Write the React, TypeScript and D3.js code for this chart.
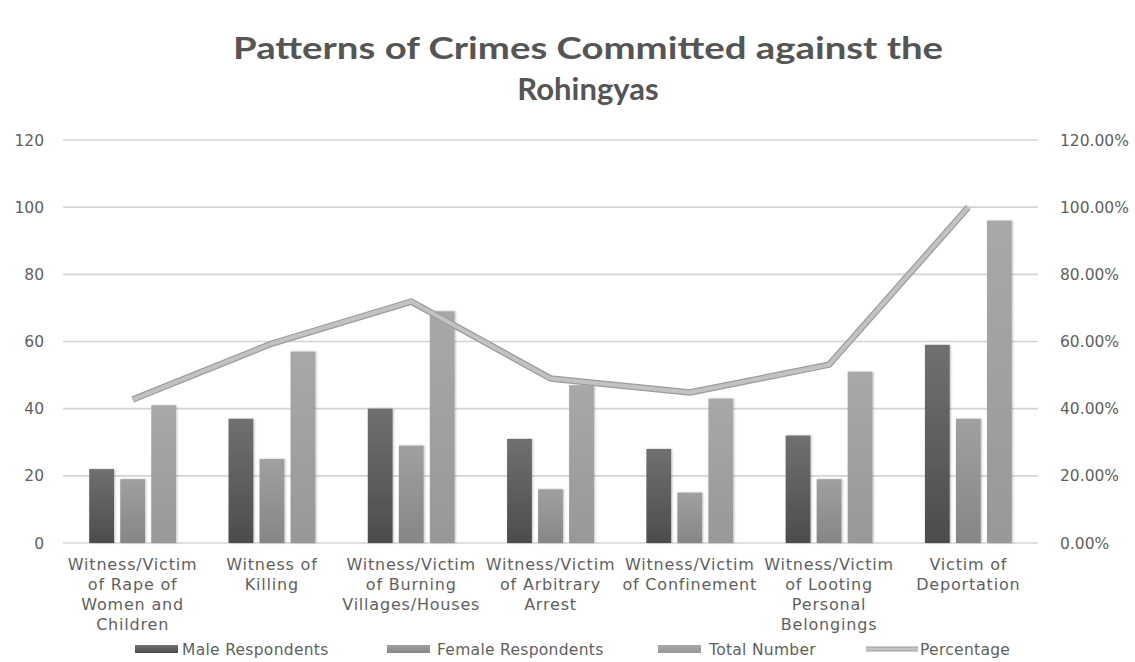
import React from "react";
import * as d3 from "d3";

const titleLines = ["Patterns of Crimes Committed against the", "Rohingyas"];
const categories: string[][] = [
  ["Witness/Victim", "of Rape of", "Women and", "Children"],
  ["Witness of", "Killing"],
  ["Witness/Victim", "of Burning", "Villages/Houses"],
  ["Witness/Victim", "of Arbitrary", "Arrest"],
  ["Witness/Victim", "of Confinement"],
  ["Witness/Victim", "of Looting", "Personal", "Belongings"],
  ["Victim of", "Deportation"],
];
const seriesNames = ["Male Respondents", "Female Respondents", "Total Number"];
const lineName = "Percentage";
const maleValues = [22, 37, 40, 31, 28, 32, 59];
const femaleValues = [19, 25, 29, 16, 15, 19, 37];
const totalValues = [41, 57, 69, 47, 43, 51, 96];
const percentValues = [0.427, 0.594, 0.719, 0.49, 0.448, 0.531, 1.0];
const leftTicks = [0, 20, 40, 60, 80, 100, 120];
const rightTicks = [0, 0.2, 0.4, 0.6, 0.8, 1.0, 1.2];

const W = 1135;
const H = 662;
const plotLeft = 63;
const plotRight = 1038;
const plotTop = 140;
const plotBottom = 543;

const gradIds = ["gMale", "gFemale", "gTotal"];
const gradStops = [
  ["#707070", "#4c4c4c"],
  ["#a0a0a0", "#868686"],
  ["#a8a8a8", "#989898"],
];
const textColor = "#5f5f5f";
const axisFont = "'DejaVu Sans', Verdana, sans-serif";

export default function App() {
  const idx = categories.map((_, i) => String(i));
  const x0 = d3.scaleBand<string>().domain(idx).range([plotLeft, plotRight]).padding(0);
  const x1 = d3
    .scaleBand<string>()
    .domain(seriesNames)
    .range([0, x0.bandwidth()])
    .paddingInner(0.2)
    .paddingOuter(0.845);
  const yL = d3.scaleLinear().domain([0, 120]).range([plotBottom, plotTop]);
  const yR = d3.scaleLinear().domain([0, 1.2]).range([plotBottom, plotTop]);
  const seriesValues = [maleValues, femaleValues, totalValues];
  const cx = (i: number) => (x0(String(i)) as number) + x0.bandwidth() / 2;
  const line = d3
    .line<number>()
    .x((_, i) => cx(i))
    .y((d) => yR(d));
  const pathD = line(percentValues) || "";
  const pctFmt = d3.format(".2%");

  const legendItems = [
    { sw: 135, tx: 182, kind: 0 },
    { sw: 387, tx: 437, kind: 1 },
    { sw: 658, tx: 709, kind: 2 },
    { sw: 866, tx: 920, kind: 3 },
  ];
  const legendY = 649;

  return (
    <svg
      width={W}
      height={H}
      style={{ position: "absolute", left: 0, top: 0, background: "#fff" }}
    >
      <defs>
        {gradIds.map((id, k) => (
          <linearGradient key={id} id={id} x1="0" y1="0" x2="0" y2="1">
            <stop offset="0%" stopColor={gradStops[k][0]} />
            <stop offset="100%" stopColor={gradStops[k][1]} />
          </linearGradient>
        ))}
        <filter id="shadow" x="-20%" y="-5%" width="140%" height="110%">
          <feGaussianBlur in="SourceAlpha" stdDeviation="1.2" />
          <feOffset dx="1" dy="0" result="b" />
          <feComponentTransfer>
            <feFuncA type="linear" slope="0.25" />
          </feComponentTransfer>
          <feMerge>
            <feMergeNode />
            <feMergeNode in="SourceGraphic" />
          </feMerge>
        </filter>
      </defs>

      {titleLines.map((t, i) => (
        <text
          key={i}
          x={588}
          y={59 + i * 41}
          textAnchor="middle"
          fontFamily="Lato, 'Open Sans', sans-serif"
          fontWeight="bold"
          fontSize={31}
          fill="#555"
          textLength={i === 0 ? 710 : undefined}
          lengthAdjust="spacingAndGlyphs"
        >
          {t}
        </text>
      ))}

      {leftTicks.map((t) => (
        <line
          key={"g" + t}
          x1={plotLeft}
          x2={plotRight}
          y1={yL(t)}
          y2={yL(t)}
          stroke="#d4d4d4"
          strokeWidth={1.6}
        />
      ))}

      {leftTicks.map((t) => (
        <text
          key={"l" + t}
          x={44}
          y={yL(t) + 5.5}
          textAnchor="end"
          fontFamily={axisFont}
          fontSize={15.5}
          fill={textColor}
        >
          {t}
        </text>
      ))}
      {rightTicks.map((t) => (
        <text
          key={"r" + t}
          x={1060}
          y={yR(t) + 5.5}
          textAnchor="start"
          fontFamily={axisFont}
          fontSize={15.5}
          fill={textColor}
        >
          {pctFmt(t)}
        </text>
      ))}

      {categories.map((_, i) =>
        seriesNames.map((s, k) => {
          const v = seriesValues[k][i];
          const bx = (x0(String(i)) as number) + (x1(s) as number);
          return (
            <rect
              key={i + "-" + k}
              x={bx}
              y={yL(v)}
              width={x1.bandwidth()}
              height={plotBottom - yL(v)}
              fill={`url(#${gradIds[k]})`}
              filter="url(#shadow)"
            />
          );
        })
      )}

      <path d={pathD} fill="none" stroke="#9c9c9c" strokeWidth={6.5} strokeLinejoin="round" />
      <path d={pathD} fill="none" stroke="#c2c2c2" strokeWidth={4} strokeLinejoin="round" />

      {categories.map((lines, i) =>
        lines.map((ln, j) => (
          <text
            key={"c" + i + "-" + j}
            x={cx(i)}
            y={564 + j * 20 + 5.5}
            textAnchor="middle"
            fontFamily={axisFont}
            fontSize={16}
            letterSpacing={0.8}
            fill={textColor}
          >
            {ln}
          </text>
        ))
      )}

      {legendItems.map((it, k) => (
        <g key={"lg" + k}>
          {it.kind < 3 ? (
            <rect
              x={it.sw}
              y={legendY - 4}
              width={43}
              height={8}
              fill={`url(#${gradIds[it.kind]})`}
            />
          ) : (
            <>
              <line x1={it.sw} x2={it.sw + 52} y1={legendY} y2={legendY} stroke="#9c9c9c" strokeWidth={5} />
              <line x1={it.sw} x2={it.sw + 52} y1={legendY} y2={legendY} stroke="#c4c4c4" strokeWidth={3} />
            </>
          )}
          <text
            x={it.tx}
            y={legendY + 5.5}
            fontFamily={axisFont}
            fontSize={15.5}
            letterSpacing={0.3}
            fill={textColor}
          >
            {it.kind < 3 ? seriesNames[it.kind] : lineName}
          </text>
        </g>
      ))}
    </svg>
  );
}
